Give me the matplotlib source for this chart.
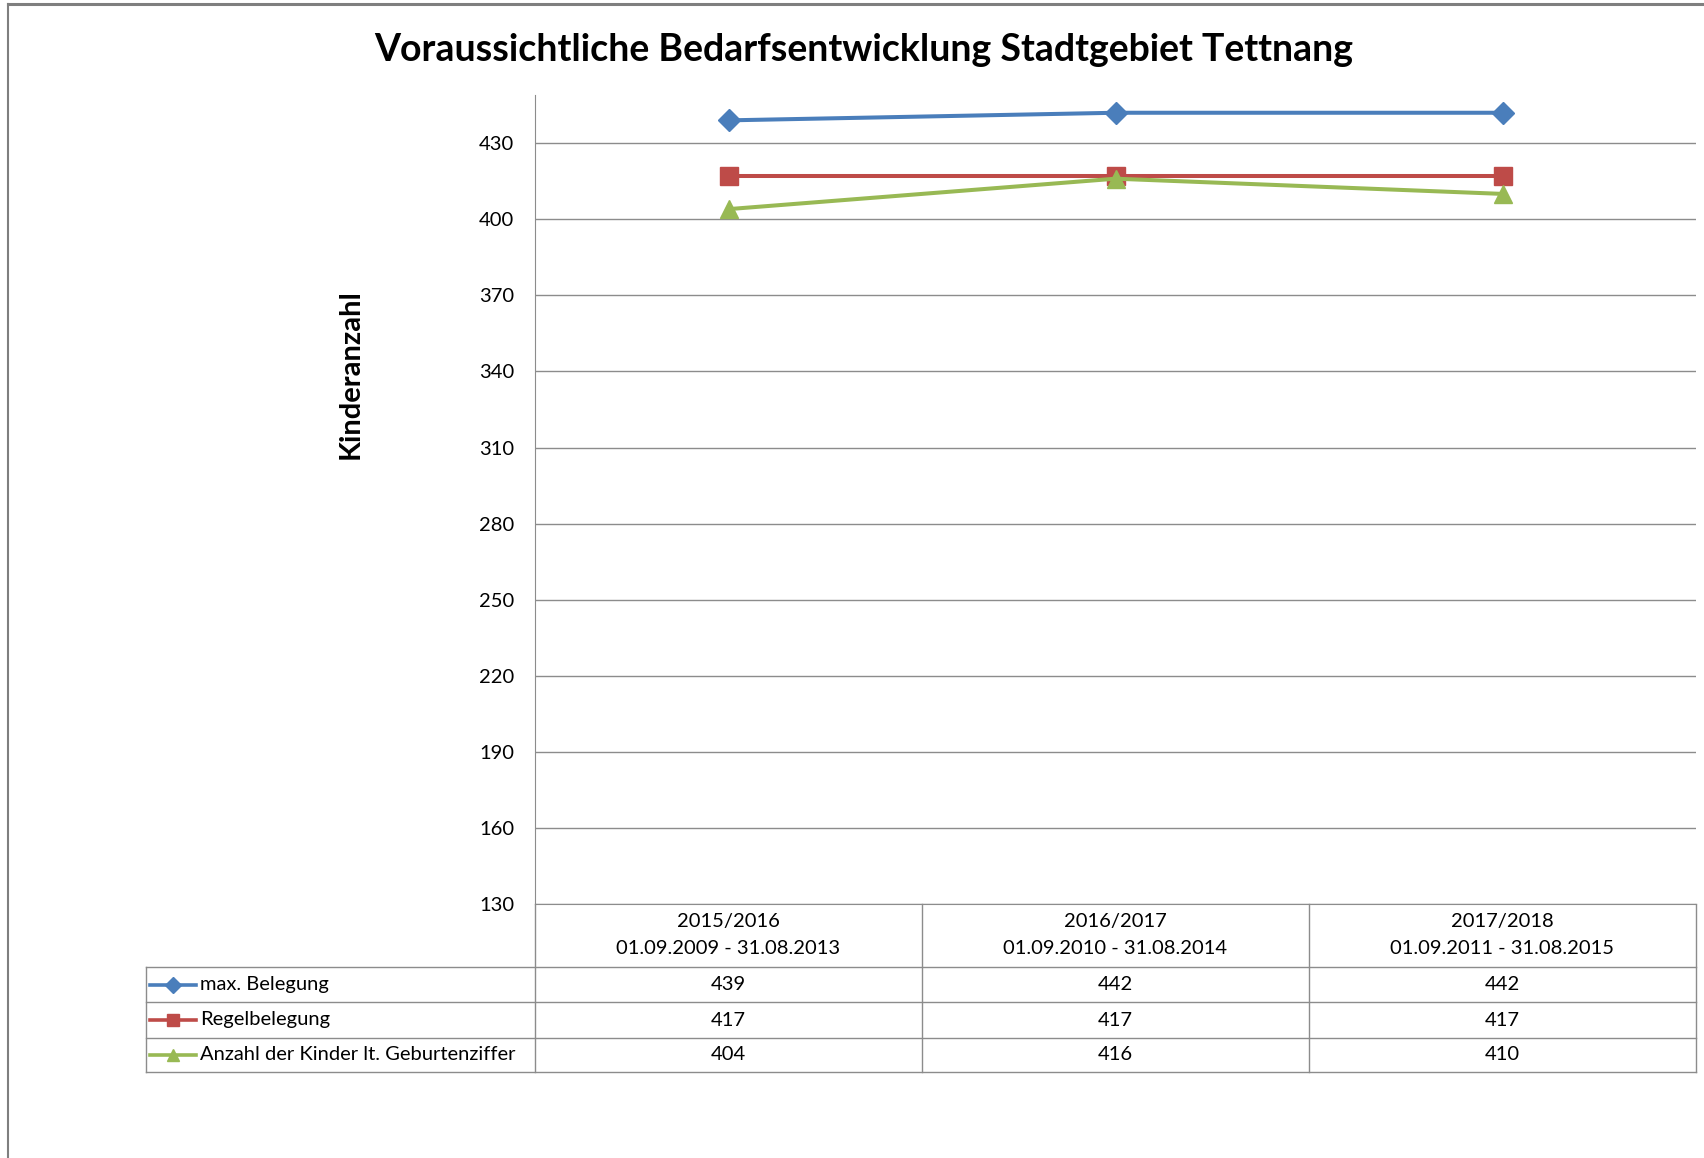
import matplotlib.pyplot as plt
from matplotlib.lines import Line2D

# chart data
categories = ["2015/2016", "2016/2017", "2017/2018"]
periods = ["01.09.2009 - 31.08.2013", "01.09.2010 - 31.08.2014", "01.09.2011 - 31.08.2015"]
series_names = ["max. Belegung", "Regelbelegung", "Anzahl der Kinder lt. Geburtenziffer"]
max_belegung = [439, 442, 442]
regelbelegung = [417, 417, 417]
anzahl_kinder = [404, 416, 410]
y_ticks = [130, 160, 190, 220, 250, 280, 310, 340, 370, 400, 430]

series = [max_belegung, regelbelegung, anzahl_kinder]
colors = ["#4A7EBB", "#BE4B48", "#98B954"]
markers = ["D", "s", "^"]
msizes = [11.5, 13, 13.5]

FONT = "Lato"
FS = 14.5
GRID = "#8C8C8C"
W, H = 1704, 1158


def px(x0, y0, x1, y1):
    """Pixel box (top-left origin) -> figure axes rect."""
    return [x0 / W, 1 - y1 / H, (x1 - x0) / W, (y1 - y0) / H]


fig = plt.figure(figsize=(W / 100, H / 100), dpi=100)

# outer frame (top and left edge)
fig.add_artist(Line2D([8 / W, 1], [1 - 4 / H, 1 - 4 / H], color="#7F7F7F", lw=2.2))
fig.add_artist(Line2D([8 / W, 8 / W], [0, 1 - 4 / H], color="#7F7F7F", lw=1.5))

fig.text(864 / W, 1 - 50 / H, "Voraussichtliche Bedarfsentwicklung Stadtgebiet Tettnang",
         ha="center", va="center", fontsize=27, fontweight="bold", family=FONT)

# main plot
ax = fig.add_axes(px(535, 95, 1696, 904))
x = list(range(len(categories)))
for vals, c, m, ms in zip(series, colors, markers, msizes):
    ax.plot(x, vals, color=c, lw=2.9, marker=m, markersize=ms, zorder=3, clip_on=False)

ax.set_xlim(-0.5, 2.5)
ax.set_ylim(130, 449)
ax.set_yticks(y_ticks)
ax.set_xticks([])
ax.yaxis.grid(True, color=GRID, lw=1)
ax.set_axisbelow(True)
ax.tick_params(axis="y", length=0, pad=15, labelsize=FS)
for lab in ax.get_yticklabels():
    lab.set_family(FONT)
for s in ["top", "right"]:
    ax.spines[s].set_visible(False)
ax.spines["left"].set_color(GRID)
ax.spines["bottom"].set_color(GRID)

fig.text(351 / W, 1 - 374 / H, "Kinderanzahl", rotation=90, ha="center", va="center",
         fontsize=21, fontweight="bold", family=FONT)

# data table below the plot
ppu = 387.0  # pixels per category
left = -0.5 - (535 - 146) / ppu
row_edges = [0, 63, 98, 134, 168]  # header + 3 rows, pixel offsets from top of table
tax = fig.add_axes(px(146, 904, 1696, 1072))
tax.set_xlim(left, 2.5)
tax.set_ylim(row_edges[-1], 0)
tax.axis("off")

for y in row_edges[1:]:
    tax.plot([left, 2.5], [y, y], color=GRID, lw=1, clip_on=False)
tax.plot([left, left], [row_edges[1], row_edges[-1]], color=GRID, lw=1, clip_on=False)
for i in range(len(categories) + 1):
    tax.plot([i - 0.5, i - 0.5], [0, row_edges[-1]], color=GRID, lw=1, clip_on=False)

for i, (cat, per) in enumerate(zip(categories, periods)):
    tax.text(i, 18, cat, ha="center", va="center", fontsize=FS, family=FONT)
    tax.text(i, 45, per, ha="center", va="center", fontsize=FS, family=FONT)

for r, (name, vals, c, m) in enumerate(zip(series_names, series, colors, markers)):
    yc = (row_edges[r + 1] + row_edges[r + 2]) / 2
    x0 = left + (150 - 146) / ppu
    x1 = left + (196 - 146) / ppu
    tax.plot([x0, x1], [yc, yc], color=c, lw=2.6, clip_on=False)
    tax.plot([(x0 + x1) / 2], [yc], color=c, marker=m, markersize=8, clip_on=False)
    tax.text(left + (200 - 146) / ppu, yc, name, ha="left", va="center", fontsize=FS, family=FONT)
    for i, v in enumerate(vals):
        tax.text(i, yc, str(v), ha="center", va="center", fontsize=FS, family=FONT)

fig.savefig("out.png", dpi=100)
